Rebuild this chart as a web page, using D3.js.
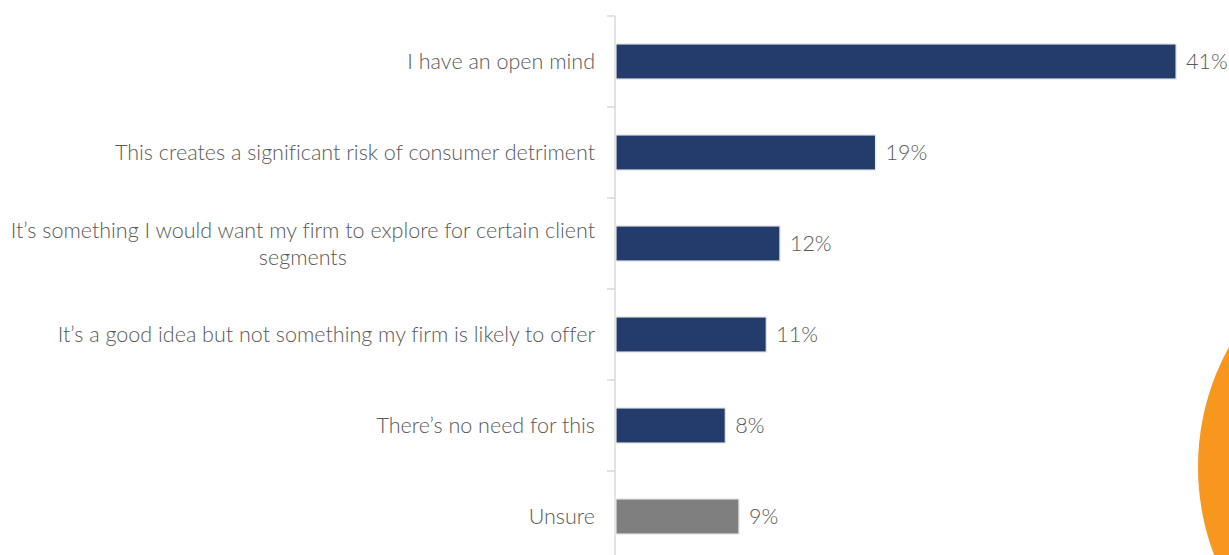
<!DOCTYPE html>
<html>
<head>
<meta charset="utf-8">
<script src="https://cdn.jsdelivr.net/npm/d3@7"></script>
<style>
  html, body { margin: 0; padding: 0; background: #ffffff; }
  svg { display: block; }
  text { font-family: Lato, "Open Sans", sans-serif; font-weight: 300; fill: #595959; font-variant-ligatures: none; }
</style>
</head>
<body>
<svg id="chart" width="1229" height="555"></svg>
<script>
// Survey responses (percent of respondents)
const categories = [
  "I have an open mind",
  "This creates a significant risk of consumer detriment",
  "It’s something I would want my firm to explore for certain client segments",
  "It’s a good idea but not something my firm is likely to offer",
  "There’s no need for this",
  "Unsure"
];
const values = [41, 19, 12, 11, 8, 9];
const barColors = ["#243c6b", "#243c6b", "#243c6b", "#243c6b", "#243c6b", "#7f7f7f"];
// Long labels are broken into these lines
const labelLines = [
  ["I have an open mind"],
  ["This creates a significant risk of consumer detriment"],
  ["It’s something I would want my firm to explore for certain client", "segments"],
  ["It’s a good idea but not something my firm is likely to offer"],
  ["There’s no need for this"],
  ["Unsure"]
];

const svg = d3.select("#chart");
const W = 1229, H = 555;
const axisX = 615;
const fontSize = 21.5;

// Decorative orange disc at the lower right
svg.append("circle")
  .attr("cx", 1446).attr("cy", 467).attr("r", 248)
  .attr("fill", "#f7971e");

const x = d3.scaleLinear().domain([0, 45]).range([axisX + 1, axisX + 1 + 45 * 13.66]);
const y = d3.scaleBand().domain(categories)
  .range([16, 16 + categories.length * 91])
  .paddingInner(0.615).paddingOuter(0.3075);

// Category axis line and band-boundary ticks
const g = svg.append("g");
g.append("line")
  .attr("x1", axisX).attr("x2", axisX)
  .attr("y1", 16).attr("y2", H)
  .attr("stroke", "#d9d9d9").attr("stroke-width", 1.5);
const step = y.step();
const boundaries = d3.range(categories.length + 1).map(i => y.range()[0] + i * step);
g.selectAll("line.tick").data(boundaries).join("line")
  .attr("class", "tick")
  .attr("x1", axisX - 8).attr("x2", axisX)
  .attr("y1", d => d).attr("y2", d => d)
  .attr("stroke", "#d9d9d9").attr("stroke-width", 1.5);

// Bars
svg.selectAll("rect.bar").data(values).join("rect")
  .attr("class", "bar")
  .attr("x", x(0))
  .attr("y", (d, i) => y(categories[i]))
  .attr("width", d => x(d) - x(0))
  .attr("height", y.bandwidth())
  .attr("fill", (d, i) => barColors[i])
  .attr("stroke", "#e4e4e4").attr("stroke-width", 1.2);

// Value labels
svg.selectAll("text.value").data(values).join("text")
  .attr("class", "value")
  .attr("x", d => x(d) + 10)
  .attr("y", (d, i) => y(categories[i]) + y.bandwidth() / 2)
  .attr("dy", "0.35em")
  .attr("font-size", fontSize)
  .text(d => d + "%");

// Category labels, right-aligned block with centred lines
const labelRight = 595;
const lineH = 27;
labelLines.forEach((lines, i) => {
  const cy = y(categories[i]) + y.bandwidth() / 2;
  const t = svg.append("text").attr("font-size", fontSize);
  const spans = lines.map((ln, j) => t.append("tspan")
    .attr("y", cy + (j - (lines.length - 1) / 2) * lineH)
    .attr("dy", "0.35em")
    .text(ln));
  const widths = spans.map(s => s.node().getComputedTextLength());
  const maxW = d3.max(widths);
  const centre = labelRight - maxW / 2;
  spans.forEach(s => s.attr("x", centre).attr("text-anchor", "middle"));
});
</script>
</body>
</html>
